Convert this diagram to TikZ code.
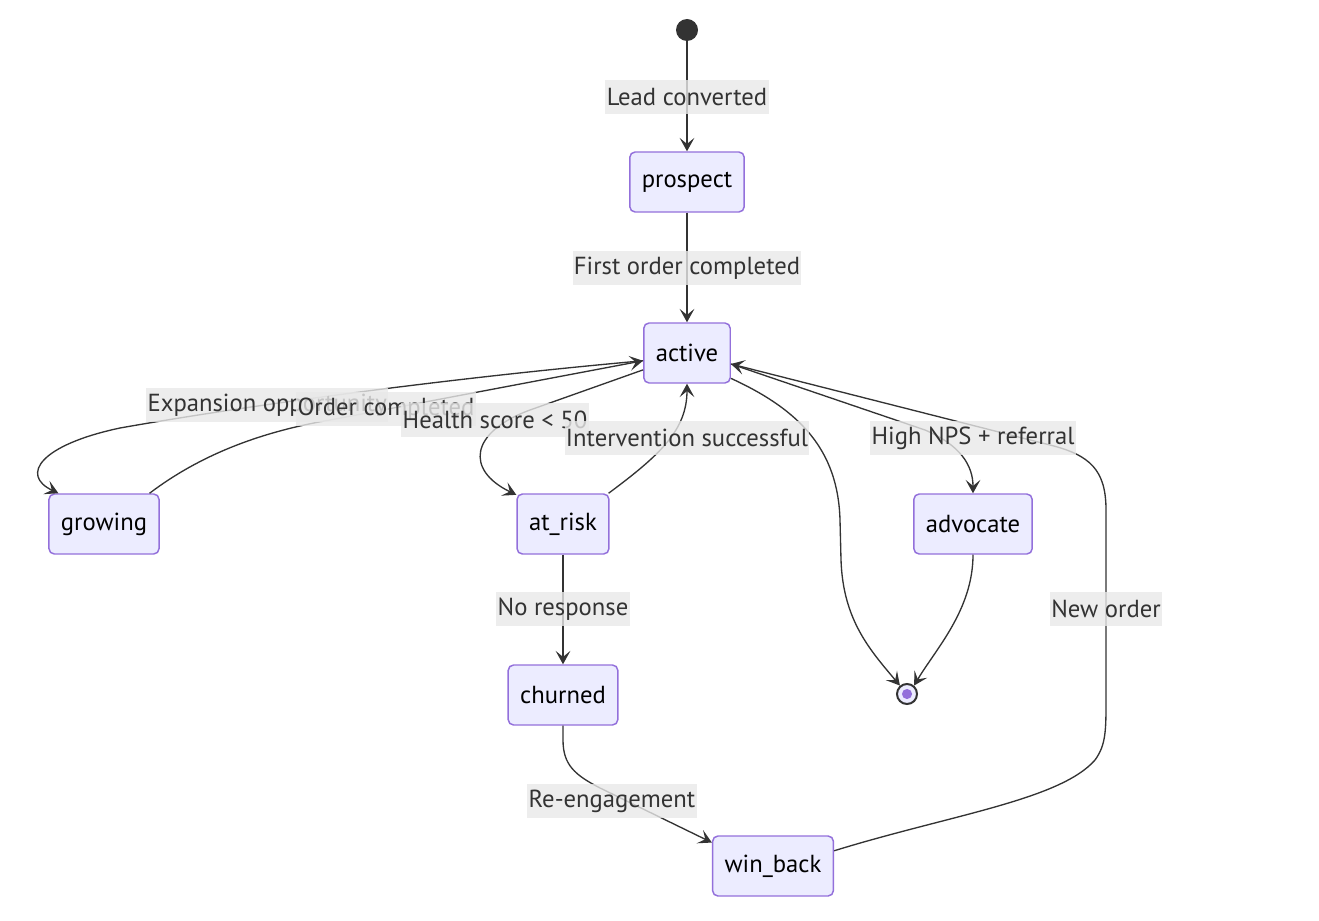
\documentclass[tikz,border=0pt]{standalone}
\usepackage{fontspec}
\setmainfont{PT Sans}
\usetikzlibrary{arrows.meta}

\definecolor{statefill}{HTML}{ECECFF}
\definecolor{stateline}{HTML}{9370DB}
\definecolor{edgeline}{HTML}{333333}
\definecolor{labelbg}{HTML}{E8E8E8}

\begin{document}
\begin{tikzpicture}[x=0.75pt,y=-0.75pt,>={Stealth[length=10pt,width=11pt,inset=4.5pt]},
  stbox/.style={draw=stateline,fill=statefill,line width=1.1pt,rounded corners=4pt,
    minimum height=45pt,inner xsep=9pt,text=black,font=\fontsize{18.5}{22}\selectfont},
  trans/.style={->,draw=edgeline,line width=1pt},
  lbl/.style={fill=labelbg,fill opacity=0.8,text opacity=1,text=edgeline,inner xsep=1pt,
    minimum height=26pt,font=\fontsize{18.5}{22}\selectfont}]
  \useasboundingbox (0,0) rectangle (1319,920);

  % start and end points
  \node[circle,fill=edgeline,minimum size=16.5pt,inner sep=0pt] (start) at (687,30) {};
  \node[circle,draw=edgeline,line width=1.5pt,fill=statefill,minimum size=15pt,inner sep=0pt] (stop) at (907,694) {};
  \fill[stateline] (stop) circle (3.8pt);

  % states
  \node[stbox] (prospect) at (687,182) {prospect};
  \node[stbox] (active) at (687,353) {active};
  \node[stbox] (growing) at (104,524) {growing};
  \node[stbox] (atrisk) at (563,524) {at\_risk};
  \node[stbox] (advocate) at (973,524) {advocate};
  \node[stbox] (churned) at (563,695) {churned};
  \node[stbox] (winback) at (773,866) {win\_back};

  % transitions
  \draw[trans] (start) -- (prospect);
  \draw[trans] (prospect) -- (active);
  \draw[trans] (active.190) .. controls (450,378) and (250,405) .. (120,428)
    .. controls (40,445) and (20,475) .. (growing.146);
  \draw[trans] (growing.34) .. controls (200,455) and (260,432) .. (330,420) -- (active.190);
  \draw[trans] (active.201) -- (530,410) .. controls (470,432) and (465,470) .. (atrisk.148);
  \draw[trans] (atrisk.34) .. controls (660,455) and (687,430) .. (active.south);
  \draw[trans] (active.330) .. controls (800,410) and (838,450) .. (840,520) -- (841,560)
    .. controls (843,620) and (870,650) .. (stop.130);
  \draw[trans] (active.346) -- (925,430) .. controls (960,445) and (973,465) .. (advocate.north);
  \draw[trans] (advocate.south) .. controls (973,610) and (935,650) .. (stop.50);
  \draw[trans] (atrisk) -- (churned);
  \draw[trans] (churned.south) -- (563,740) .. controls (563,765) and (575,775) .. (600,788)
    -- (winback.159);
  \draw[trans] (winback.14) .. controls (950,815) and (1060,800) .. (1095,760)
    .. controls (1106,745) and (1106,730) .. (1106,700) -- (1106,510)
    .. controls (1106,470) and (1090,455) .. (1050,445) -- (active.346);

  % labels
  \node[lbl] (lead) at (687,97) {Lead converted};
  \node[lbl] (first) at (687,268) {First order completed};
  \node[lbl,anchor=west] (expand) at (146,405) {Expansion opportunity};
  \node[lbl] (order) at (386,409) {Order completed};
  \node[lbl] (health) at (495,420) {Health score < 50};
  \node[lbl] (interv) at (687,438) {Intervention successful};
  \node[lbl] (nps) at (973,438) {High NPS + referral};
  \node[lbl] (noresp) at (563,609) {No response};
  \node[lbl] (neworder) at (1106,609) {New order};
  \node[lbl] (reeng) at (612,801) {Re-engagement};
\end{tikzpicture}
\end{document}
